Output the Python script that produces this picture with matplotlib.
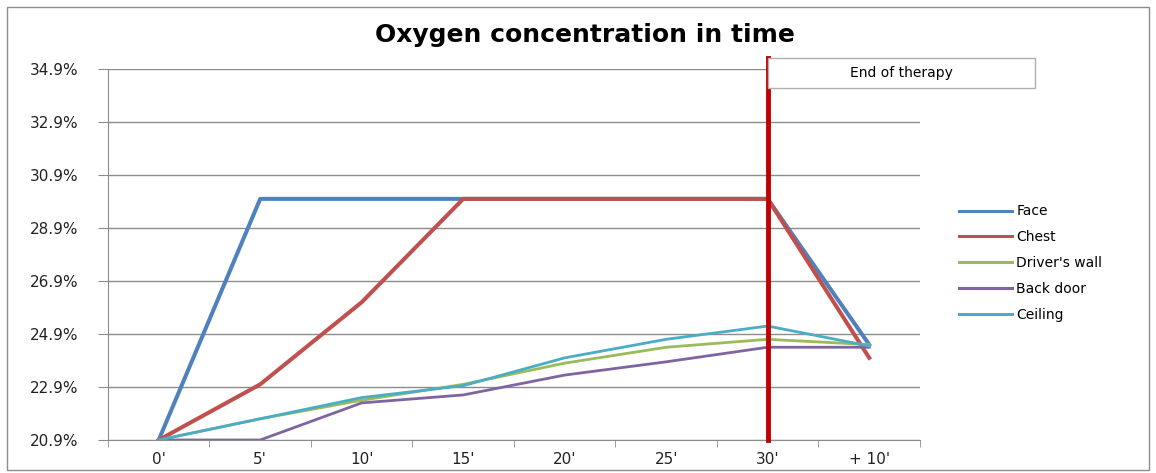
import matplotlib.pyplot as plt
from matplotlib.patches import Rectangle
from matplotlib.ticker import FuncFormatter

times = ["0'", "5'", "10'", "15'", "20'", "25'", "30'", "+ 10'"]
face = [20.9, 30.0, 30.0, 30.0, 30.0, 30.0, 30.0, 24.5]
chest = [20.9, 23.0, 26.1, 30.0, 30.0, 30.0, 30.0, 24.0]
drivers_wall = [20.9, 21.7, 22.4, 23.0, 23.8, 24.4, 24.7, 24.5]
back_door = [20.9, 20.9, 22.3, 22.6, 23.35, 23.85, 24.4, 24.4]
ceiling = [20.9, 21.7, 22.5, 22.95, 24.0, 24.7, 25.2, 24.45]
y_ticks = [20.9, 22.9, 24.9, 26.9, 28.9, 30.9, 32.9, 34.9]
therapy_end = 6

fig = plt.figure(figsize=(11.56, 4.73), dpi=100)
fig.patches.append(Rectangle((0.006, 0.006), 0.988, 0.98, transform=fig.transFigure,
                             fill=False, edgecolor='#8c8c8c', linewidth=1))
ax = fig.add_axes([0.0934, 0.0698, 0.7024, 0.7842])

x = list(range(len(times)))
ax.plot(x, face, color='#4F81BD', linewidth=2.9, label='Face')
ax.plot(x, chest, color='#C0504D', linewidth=2.9, label='Chest')
ax.plot(x, drivers_wall, color='#9BBB59', linewidth=2.0, label="Driver's wall")
ax.plot(x, back_door, color='#8064A2', linewidth=2.0, label='Back door')
ax.plot(x, ceiling, color='#4BACC6', linewidth=2.0, label='Ceiling')

ax.axvline(therapy_end, ymin=0, ymax=1.03, color='#C00000', linewidth=3.5,
           clip_on=False, zorder=5)

ax.set_xlim(-0.5, len(times) - 0.5)
ax.set_ylim(y_ticks[0], y_ticks[-1])
ax.set_yticks(y_ticks)
ax.yaxis.set_major_formatter(FuncFormatter(lambda v, p: f'{v:.1f}%'))
ax.set_xticks(x)
ax.set_xticklabels(times)
ax.set_xticks([i - 0.5 for i in range(len(times) + 1)], minor=True)
ax.tick_params(axis='x', which='major', length=0, pad=9, labelsize=11, labelcolor='#222222')
ax.tick_params(axis='x', which='minor', length=5, color='#8c8c8c', direction='out')
ax.tick_params(axis='y', length=7, color='#8c8c8c', pad=14, labelsize=11, labelcolor='#222222')
ax.grid(axis='y', color='#8c8c8c', linewidth=1)
ax.set_axisbelow(True)
for s in ['top', 'right']:
    ax.spines[s].set_visible(False)
for s in ['left', 'bottom']:
    ax.spines[s].set_color('#8c8c8c')

fig.text(0.506, 0.925, 'Oxygen concentration in time', ha='center', va='center',
         fontsize=18, fontweight='bold')

fig.patches.append(Rectangle((0.6644, 0.814), 0.231, 0.0634, transform=fig.transFigure,
                             facecolor='white', edgecolor='#b0b0b0', linewidth=1, zorder=6))
fig.text(0.78, 0.846, 'End of therapy', ha='center', va='center', fontsize=10, zorder=7)

leg = ax.legend(loc='center left', bbox_to_anchor=(1.033, 0.477), frameon=False, fontsize=10,
                handlelength=3.8, handletextpad=0.3, labelspacing=0.85)
for line in leg.get_lines():
    line.set_linewidth(2.2)

fig.savefig('out.png', dpi=100)
